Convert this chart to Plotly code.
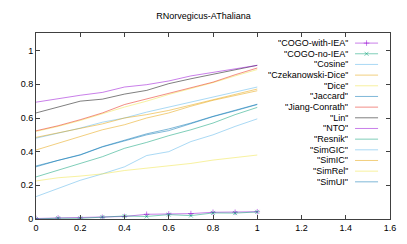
import plotly.graph_objects as go

# threshold values on the x axis
x_vals = [0, 0.1, 0.2, 0.3, 0.4, 0.5, 0.6, 0.7, 0.8, 0.9, 1.0]

names = ['"COGO-with-IEA"', '"COGO-no-IEA"', '"Cosine"', '"Czekanowski-Dice"', '"Dice"',
         '"Jaccard"', '"Jiang-Conrath"', '"Lin"', '"NTO"', '"Resnik"', '"SimGIC"',
         '"SimIC"', '"SimRel"', '"SimUI"']

cogo_with_iea = [0.003, 0.006, 0.005, 0.010, 0.015, 0.028, 0.030, 0.032, 0.040, 0.040, 0.043]
cogo_no_iea = [0.000, 0.005, 0.004, 0.012, 0.018, 0.015, 0.026, 0.020, 0.036, 0.035, 0.042]
cosine = [0.480, 0.510, 0.540, 0.575, 0.600, 0.635, 0.665, 0.694, 0.724, 0.754, 0.784]
czekanowski_dice = [0.485, 0.512, 0.540, 0.565, 0.600, 0.620, 0.645, 0.677, 0.708, 0.740, 0.772]
dice = [0.520, 0.550, 0.585, 0.625, 0.665, 0.700, 0.740, 0.775, 0.810, 0.850, 0.888]
jaccard = [0.315, 0.350, 0.382, 0.430, 0.466, 0.506, 0.535, 0.570, 0.610, 0.645, 0.682]
jiang_conrath = [0.524, 0.554, 0.590, 0.630, 0.680, 0.714, 0.748, 0.780, 0.813, 0.857, 0.897]
lin = [0.630, 0.665, 0.700, 0.712, 0.742, 0.764, 0.804, 0.833, 0.860, 0.885, 0.913]
nto = [0.694, 0.715, 0.735, 0.752, 0.784, 0.798, 0.820, 0.850, 0.870, 0.890, 0.913]
resnik = [0.250, 0.290, 0.330, 0.370, 0.420, 0.455, 0.495, 0.530, 0.570, 0.620, 0.663]
simgic = [0.133, 0.180, 0.230, 0.268, 0.310, 0.377, 0.400, 0.460, 0.500, 0.550, 0.595]
simic = [0.410, 0.450, 0.490, 0.530, 0.560, 0.600, 0.630, 0.670, 0.705, 0.732, 0.762]
simrel = [0.226, 0.245, 0.255, 0.268, 0.288, 0.302, 0.316, 0.330, 0.350, 0.365, 0.380]
simui = [0.310, 0.348, 0.380, 0.428, 0.464, 0.500, 0.525, 0.565, 0.608, 0.643, 0.680]

series = [cogo_with_iea, cogo_no_iea, cosine, czekanowski_dice, dice, jaccard,
          jiang_conrath, lin, nto, resnik, simgic, simic, simrel, simui]

# gnuplot default palette, drawn semi transparent
palette = ["148,0,211", "0,158,115", "86,180,233", "230,159,0", "240,228,66",
           "0,114,178", "229,30,16", "0,0,0"]
colors = ["rgba(%s,0.5)" % palette[i % 8] for i in range(len(series))]
symbols = ["cross-thin", "x-thin"] + [None] * 12

fig = go.Figure()

for i, (nm, ys) in enumerate(zip(names, series)):
    mode = "lines+markers" if symbols[i] else "lines"
    fig.add_trace(go.Scatter(
        x=x_vals, y=ys, mode=mode, name=nm, showlegend=False,
        line=dict(color=colors[i], width=1),
        marker=dict(symbol=symbols[i] or "circle", size=4,
                    line=dict(color=colors[i], width=1))))

# gnuplot style key: right aligned text with the sample to its right
key_top = 1.045
key_step = 0.0634
shapes = []
annotations = []
for i, nm in enumerate(names):
    ky = key_top - i * key_step
    annotations.append(dict(x=1.415, y=ky, xref="x", yref="y", text=nm,
                            showarrow=False, xanchor="right", yanchor="middle",
                            height=10, borderpad=0,
                            font=dict(size=9, color="#000000")))
    shapes.append(dict(type="line", xref="x", yref="y", x0=1.442, x1=1.546,
                       y0=ky, y1=ky, line=dict(color=colors[i], width=1)))
    if symbols[i]:
        fig.add_trace(go.Scatter(
            x=[1.494], y=[ky], mode="markers", showlegend=False, hoverinfo="skip",
            marker=dict(symbol=symbols[i], size=4, line=dict(color=colors[i], width=1))))

axis_style = dict(showline=True, linecolor="#404040", linewidth=1, mirror="ticks",
                  ticks="inside", ticklen=4, tickcolor="#404040", showgrid=False,
                  zeroline=False, automargin=False,
                  tickfont=dict(size=9, color="#000000"))

# the page has an 8px body margin, so the figure is sized to fit inside it
fig.update_layout(
    width=391, height=228,
    margin=dict(l=28, r=9, t=25, b=17),
    paper_bgcolor="white", plot_bgcolor="white",
    font=dict(family="Liberation Sans, Arial, sans-serif", size=9, color="#000000"),
    title=dict(text="RNorvegicus-AThaliana", x=0.5, xanchor="center", y=0.965,
               yanchor="middle", font=dict(size=9)),
    xaxis=dict(range=[0, 1.6], tickvals=[0, 0.2, 0.4, 0.6, 0.8, 1, 1.2, 1.4, 1.6],
               ticktext=["0", "0.2", "0.4", "0.6", "0.8", "1", "1.2", "1.4", "1.6"],
               **axis_style),
    yaxis=dict(range=[0, 1.105], tickvals=[0, 0.2, 0.4, 0.6, 0.8, 1],
               ticktext=["0", "0.2", "0.4", "0.6", "0.8", "1"], **axis_style),
    shapes=shapes, annotations=annotations,
)

fig.write_html("out.html")
